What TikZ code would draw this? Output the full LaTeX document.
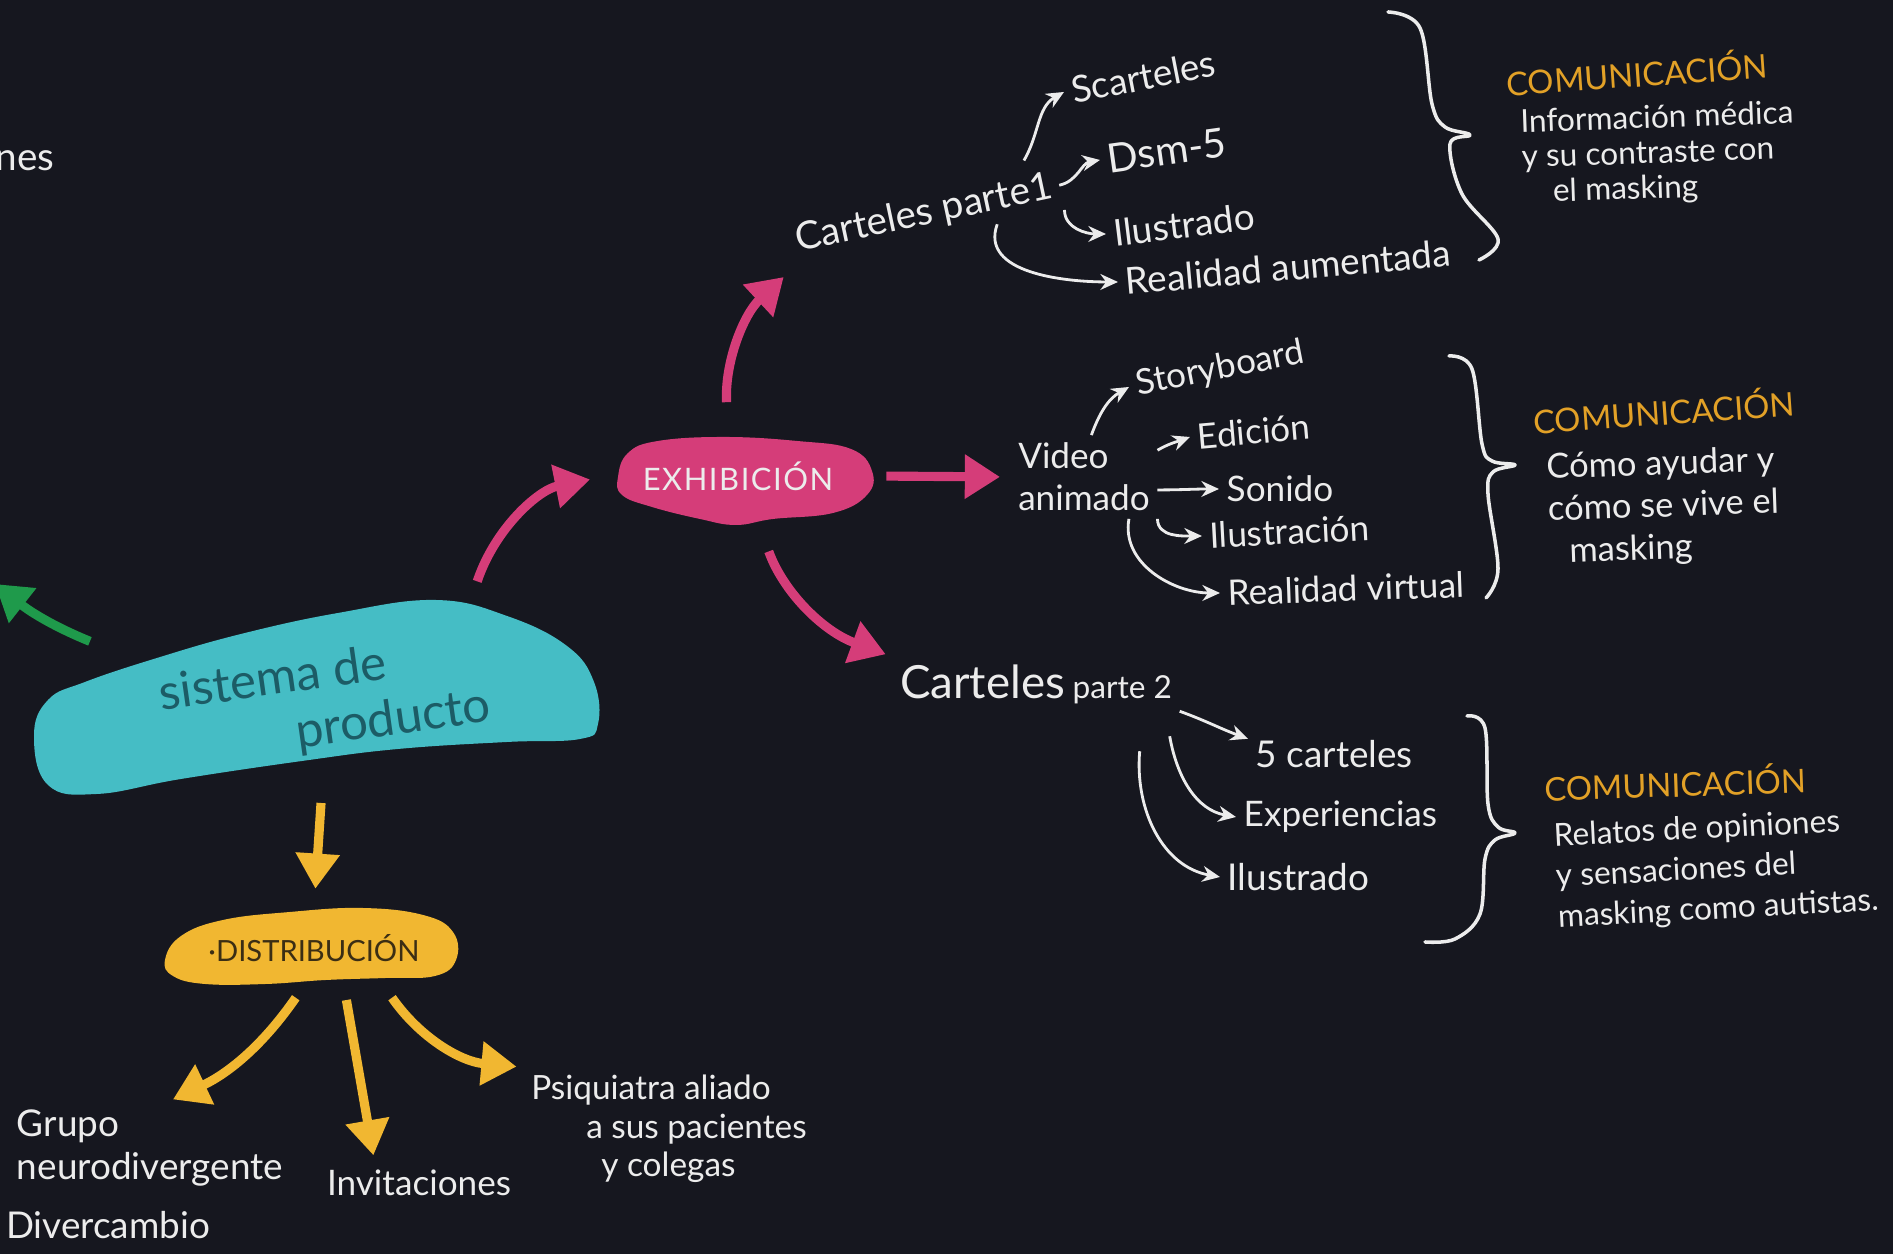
\documentclass[tikz,border=0pt]{standalone}
\usepackage{fontspec}
\setmainfont{Lato}
\usetikzlibrary{arrows.meta}

\definecolor{bgnavy}{HTML}{16171F}
\definecolor{tealblob}{HTML}{45BDC5}
\definecolor{tealink}{HTML}{1C5C66}
\definecolor{pinkblob}{HTML}{D53D79}
\definecolor{yellowblob}{HTML}{F1B731}
\definecolor{distink}{HTML}{3B2E14}
\definecolor{greenline}{HTML}{1F9A4B}
\definecolor{chalkwhite}{HTML}{ECECEC}
\definecolor{ochre}{HTML}{E2A127}

\tikzset{
	chalk/.style={text=chalkwhite, inner sep=2pt, font=\fontsize{10}{12}\selectfont},
	comtitle/.style={text=ochre, inner sep=1pt, font=\fontsize{9.3}{11}\selectfont},
	twig/.style={draw=chalkwhite, line width=0.8pt, -{Stealth[length=5pt,width=4.5pt]}},
	bough/.style={line width=2.6pt, -{Triangle[length=10pt,width=12pt]}},
	bracket/.style={draw=chalkwhite, line width=1pt, line cap=round, line join=round},
	blobbox/.style={inner sep=0pt},
}

\begin{document}
\begin{tikzpicture}
	\useasboundingbox (0,0) rectangle (18.93,12.54);
	\fill[bgnavy] (0,0) rectangle (18.93,12.54);
	\clip (0,0) rectangle (18.93,12.54);

	%blobs
	\fill[tealblob] plot[smooth cycle, tension=0.7] coordinates {(0.34,5.18) (0.48,5.54) (0.85,5.72) (1.57,5.96) (2.41,6.20) (3.38,6.41) (4.35,6.54) (5.07,6.38) (5.67,6.08) (5.94,5.72) (5.98,5.30) (5.80,5.15) (5.07,5.12) (3.98,5.05) (3.02,4.93) (1.81,4.75) (0.97,4.60) (0.48,4.69)};
	\fill[pinkblob] plot[smooth cycle, tension=0.7] coordinates {(6.18,7.77) (6.28,8.01) (6.58,8.13) (7.24,8.17) (7.97,8.13) (8.51,8.05) (8.72,7.83) (8.67,7.59) (8.33,7.41) (7.73,7.35) (7.36,7.29) (7.00,7.35) (6.52,7.47) (6.22,7.59)};
	\fill[yellowblob] plot[smooth cycle, tension=0.7] coordinates {(1.65,2.94) (1.81,3.18) (2.23,3.34) (2.90,3.42) (3.62,3.46) (4.23,3.39) (4.53,3.22) (4.56,2.94) (4.35,2.78) (3.86,2.76) (3.26,2.74) (2.66,2.70) (2.05,2.70) (1.73,2.78)};

	%main nodes
	\node[blobbox,
	rotate=8,
	minimum width=5.5cm,
	minimum height=1.7cm,
	align=left,
	text=tealink,
	font=\fontsize{14}{16}\selectfont] (sistema) at (3.25,5.52) {sistema de\\\hspace*{1.3cm}producto};

	\node[blobbox,
	minimum width=2.6cm,
	minimum height=0.9cm,
	text=chalkwhite,
	font=\fontsize{8.8}{10}\selectfont\addfontfeatures{LetterSpace=5}] (exhib) at (7.38,7.78) {EXHIBICIÓN};

	\node[blobbox,
	minimum width=2.9cm,
	minimum height=0.75cm,
	text=distink,
	font=\fontsize{8.3}{10}\selectfont] (distrib) at (3.14,3.06) {·DISTRIBUCIÓN};

	\node[chalk, anchor=east, font=\fontsize{11}{12}\selectfont] (nes) at (0.62,10.93) {nes};
	\coordinate (greenend) at (-0.05,6.70);

	%exhibicion branches
	\node[chalk, rotate=12, font=\fontsize{11}{12}\selectfont] (cart1) at (9.24,10.40) {Carteles parte1};
	\node[chalk, rotate=11, anchor=west, font=\fontsize{10.5}{12}\selectfont] (scart) at (10.64,11.62) {Scarteles};
	\node[chalk, rotate=8, anchor=west, font=\fontsize{11.5}{12}\selectfont] (dsm) at (11.00,10.94) {Dsm-5};
	\node[chalk, rotate=7, anchor=west, font=\fontsize{10.5}{12}\selectfont] (ilus1) at (11.06,10.20) {Ilustrado};
	\node[chalk, rotate=5, anchor=west, font=\fontsize{10.5}{12}\selectfont] (real1) at (11.18,9.72) {Realidad aumentada};

	\node[chalk, align=left] (video) at (10.84,7.77) {Video\\animado};
	\node[chalk, rotate=11, anchor=west] (story) at (11.29,8.67) {Storyboard};
	\node[chalk, rotate=5, anchor=west] (edic) at (11.90,8.17) {Edición};
	\node[chalk, anchor=west] (sonido) at (12.19,7.65) {Sonido};
	\node[chalk, rotate=3, anchor=west] (ilus2) at (12.02,7.18) {Ilustración};
	\node[chalk, rotate=2, anchor=west] (realv) at (12.20,6.61) {Realidad virtual};

	\node[chalk, font=\fontsize{13}{14}\selectfont] (cart2) at (10.36,5.70) {Carteles\,{\fontsize{9}{10}\selectfont parte 2}};
	\node[chalk, anchor=west, font=\fontsize{10.5}{12}\selectfont] (cinco) at (12.48,5.00) {5 carteles};
	\node[chalk, anchor=west] (exper) at (12.36,4.37) {Experiencias};
	\node[chalk, anchor=west, font=\fontsize{10.5}{12}\selectfont] (ilus3) at (12.20,3.77) {Ilustrado};

	%comunicacion
	\node[comtitle, rotate=4] (com1) at (16.37,11.82) {COMUNICACIÓN};
	\node[chalk, rotate=2, anchor=north west, align=left, font=\fontsize{9}{10}\selectfont] (desc1) at (15.12,11.52) {Información médica\\y su contraste con\\\hspace*{0.3cm}el masking};
	\node[comtitle, rotate=4] (com2) at (16.64,8.44) {COMUNICACIÓN};
	\node[chalk, rotate=2, anchor=north west, align=left, font=\fontsize{9.8}{12}\selectfont] (desc2) at (15.38,8.08) {Cómo ayudar y\\cómo se vive el\\\hspace*{0.2cm}masking};
	\node[comtitle, rotate=2] (com3) at (16.75,4.72) {COMUNICACIÓN};
	\node[chalk, rotate=3, anchor=north west, align=left, font=\fontsize{9}{11.5}\selectfont] (desc3) at (15.45,4.38) {Relatos de opiniones\\y sensaciones del\\masking como autistas.};

	%distribucion branches
	\node[chalk, align=left, font=\fontsize{10.5}{12}\selectfont] (grupo) at (1.50,1.06) {Grupo\\neurodivergente};
	\node[chalk, font=\fontsize{10.5}{12}\selectfont] (diver) at (1.08,0.29) {Divercambio};
	\node[chalk] (invit) at (4.19,0.71) {Invitaciones};
	\node[chalk, align=left, font=\fontsize{9.5}{11}\selectfont] (psiq) at (6.69,1.25) {Psiquiatra aliado\\\hspace*{0.55cm}a sus pacientes\\\hspace*{0.7cm}y colegas};

	%braces
	\draw[bracket] plot[smooth, tension=0.6] coordinates {(13.88,12.42) (14.20,12.26) (14.32,11.50) (14.45,11.27) (14.70,11.19) (14.50,11.10) (14.62,10.60) (14.98,10.15) (14.79,9.94)};
	\draw[bracket] plot[smooth, tension=0.6] coordinates {(14.49,8.98) (14.72,8.85) (14.82,8.10) (14.92,7.93) (15.15,7.89) (14.93,7.82) (14.88,7.60) (14.98,6.85) (14.86,6.56)};
	\draw[bracket] plot[smooth, tension=0.6] coordinates {(14.67,5.38) (14.85,5.26) (14.88,4.50) (14.98,4.27) (15.15,4.21) (14.95,4.14) (14.85,3.95) (14.80,3.40) (14.55,3.15) (14.25,3.12)};

	%fat arrows
	\draw[bough, greenline, shorten <=4pt] (sistema.158) to[bend left=8] (greenend);
	\draw[bough, pinkblob, shorten <=4pt, shorten >=5pt] (sistema.28) to[bend left=30] (exhib.west);
	\draw[bough, pinkblob, shorten <=8pt, shorten >=4pt] ([xshift=-0.1cm]exhib.north) to[bend left=25] (cart1.south west);
	\draw[bough, pinkblob, shorten <=5pt, shorten >=3pt] (exhib.east) -- (video.west);
	\draw[bough, pinkblob, shorten <=9pt, shorten >=2pt] ([xshift=0.2cm]exhib.south) to[bend right=25] (cart2.north west);
	\draw[bough, yellowblob, shorten <=4pt, shorten >=6pt] (sistema.-100) -- (distrib.north);
	\draw[bough, yellowblob, shorten <=4pt, shorten >=2pt] (distrib.-105) to[bend left=15] (grupo.70);
	\draw[bough, yellowblob, shorten <=4pt, shorten >=2pt] ([xshift=0.3cm]distrib.south) -- (invit.155);
	\draw[bough, yellowblob, shorten <=4pt, shorten >=2pt] ([xshift=0.7cm]distrib.south) to[bend right=25] (psiq.north west);

	%thin arrows
	\draw[twig] ([xshift=-0.3cm]cart1.north east) to[out=60, in=210] (scart.west);
	\draw[twig] (cart1.east) to[out=12, in=190] (dsm.west);
	\draw[twig] (cart1.south east) to[out=-90, in=180] (ilus1.west);
	\draw[twig] (cart1.-20) to[out=-110, in=180] (real1.west);

	\draw[twig] (video.80) to[out=70, in=210] (story.west);
	\draw[twig] (video.20) to[out=30, in=200] (edic.west);
	\draw[twig] (video.-10) to[out=0, in=180] (sonido.west);
	\draw[twig] (video.south east) to[out=-90, in=180] (ilus2.west);
	\draw[twig] (video.-43) to[out=-100, in=180] (realv.west);

	\draw[twig] (cart2.south east) to[out=-20, in=160] (cinco.170);
	\draw[twig] ([xshift=-0.1cm,yshift=-0.25cm]cart2.south east) to[out=-80, in=170] (exper.west);
	\draw[twig] ([xshift=-0.4cm,yshift=-0.4cm]cart2.south east) to[out=-95, in=170] (ilus3.west);
\end{tikzpicture}
\end{document}
